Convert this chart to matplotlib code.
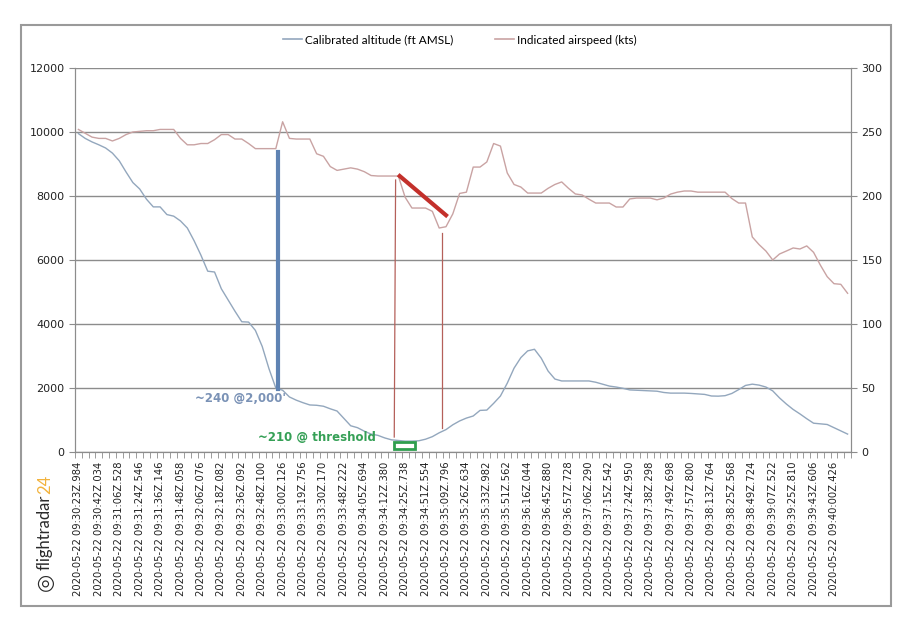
import matplotlib.pyplot as plt
import numpy as np
from matplotlib.patches import Rectangle


# calibrated altitude (ft AMSL), one value per sample
altitude = [9950, 9800, 9690, 9600, 9500, 9340, 9100, 8750, 8420, 8220,
            7900, 7660, 7660, 7420, 7370, 7220, 7000, 6600, 6150, 5650,
            5625, 5100, 4750, 4400, 4070, 4060, 3800, 3300, 2600, 2000,
            1930, 1720, 1620, 1540, 1470, 1460, 1430, 1350, 1280, 1050,
            820, 760, 650, 560, 520, 440, 380, 360, 340, 340,
            350, 400, 480, 600, 700, 850, 970, 1060, 1125, 1300,
            1310, 1520, 1750, 2150, 2620, 2950, 3160, 3210, 2930, 2530,
            2280, 2220, 2220, 2220, 2220, 2220, 2180, 2120, 2060, 2030,
            1990, 1940, 1930, 1920, 1910, 1900, 1860, 1840, 1840, 1840,
            1830, 1815, 1800, 1750, 1745, 1760, 1830, 1950, 2080, 2120,
            2090, 2030, 1910, 1690, 1500, 1330, 1190, 1040, 900, 880,
            860, 760, 660, 560]

# indicated airspeed (kts)
airspeed = [252, 249, 246, 245, 245, 243, 245, 248, 250, 250.5,
            251, 251, 252, 252, 252, 245, 240, 240, 241, 241,
            244, 248, 248, 244.5, 244.5, 241, 237, 237, 237, 237,
            258, 245, 244.5, 244.5, 244.5, 233, 231, 223, 220, 221,
            222, 221, 219, 216, 215.6, 215.6, 215.6, 215.6, 199, 190.6,
            190.6, 190.6, 188, 175, 176, 186, 202, 203, 222.6, 222.6,
            226.6, 241, 239, 218, 209, 207, 202.3, 202.3, 202.3, 206,
            209, 211, 206, 201.6, 200.8, 197.5, 194.5, 194.5, 194.5, 191.4,
            191.4, 197.7, 198.4, 198.4, 198.4, 197, 198.4, 201.5, 203, 203.9,
            203.9, 203, 203, 203, 203, 203, 198, 194.5, 194.5, 168,
            162, 157, 150, 154.7, 157, 159.4, 158.6, 161, 156, 146,
            137, 131.5, 131, 124]

# every third sample carries a label
tick_times = ["09:30:23Z.984", "09:30:42Z.034", "09:31:06Z.528", "09:31:24Z.546",
              "09:31:36Z.146", "09:31:48Z.058", "09:32:06Z.076", "09:32:18Z.082",
              "09:32:36Z.092", "09:32:48Z.100", "09:33:00Z.126", "09:33:19Z.756",
              "09:33:30Z.170", "09:33:48Z.222", "09:34:05Z.694", "09:34:12Z.380",
              "09:34:25Z.738", "09:34:51Z.554", "09:35:09Z.796", "09:35:26Z.634",
              "09:35:33Z.982", "09:35:51Z.562", "09:36:16Z.044", "09:36:45Z.880",
              "09:36:57Z.728", "09:37:06Z.290", "09:37:15Z.542", "09:37:24Z.950",
              "09:37:38Z.298", "09:37:49Z.698", "09:37:57Z.800", "09:38:13Z.764",
              "09:38:25Z.568", "09:38:49Z.724", "09:39:07Z.522", "09:39:25Z.810",
              "09:39:43Z.606", "09:40:00Z.426"]
tick_labels = ["2020-05-22 " + t for t in tick_times]

alt_color = "#93a7bd"
spd_color = "#c9a3a3"
grid_color = "#8c8c8c"
narrow = ["Lato", "DejaVu Sans"]

fig = plt.figure(figsize=(9.05, 6.21), dpi=100)
fig.patches.append(Rectangle((21 / 905, 1 - 606 / 621), 870 / 905, 581 / 621,
                             transform=fig.transFigure, fill=False,
                             edgecolor="#9a9a9a", linewidth=1.5))

ax = fig.add_axes([75 / 905, 1 - 452 / 621, 776 / 905, 384 / 621])
ax2 = ax.twinx()

x = np.arange(len(altitude))
ax.plot(x, altitude, color=alt_color, linewidth=1.0, zorder=3)
ax2.plot(x, airspeed, color=spd_color, linewidth=1.0, zorder=3)

ax.set_xlim(-0.5, len(altitude) - 0.5)
ax.set_ylim(0, 12000)
ax2.set_ylim(0, 300)
ax.set_yticks(np.arange(0, 12001, 2000))
ax2.set_yticks(np.arange(0, 301, 50))
ax.grid(axis="y", color=grid_color, linewidth=1.0)
ax.set_axisbelow(True)

ax.set_xticks(x[::3])
ax.set_xticklabels(tick_labels, rotation=90, fontsize=7.2, color="#222222")
ax.set_xticks(np.arange(-0.5, len(altitude)), minor=True)
ax.tick_params(axis="x", which="major", length=0, pad=7)
ax.tick_params(axis="x", which="minor", length=4, color=grid_color, direction="out")
ax.tick_params(axis="y", length=4, color=grid_color, labelsize=8, labelcolor="#222222")
ax2.tick_params(axis="y", length=4, color=grid_color, labelsize=8, labelcolor="#222222")

for a in (ax, ax2):
    a.spines["top"].set_visible(False)
    for s in ("left", "right", "bottom"):
        a.spines[s].set_color(grid_color)

# annotations drawn over the chart
ax2.plot([29.3, 29.3], [234.4, 49.3], color="#5f83b3", linewidth=3, zorder=5)
ax2.text(17.1, 41.5, "~240 @2,000'", color="#7a92b6", fontsize=8.5,
         fontweight="bold", va="center", ha="left", zorder=7)
ax2.plot([47.2, 54.0], [215.6, 185], color="#c3302b", linewidth=3, zorder=5)
ax2.plot([46.6, 46.4], [212.5, 11.7], color="#b5605a", linewidth=0.9, zorder=5)
ax2.plot([53.4, 53.4], [171, 18.7], color="#b5605a", linewidth=0.9, zorder=5)
ax2.text(26.4, 11.7, "~210 @ threshold", color="#35a056", fontsize=8.5,
         fontweight="bold", va="center", ha="left", zorder=7)
ax2.add_patch(Rectangle((46.4, 2.3), 3.0, 5.5, facecolor="white",
                        edgecolor="#2f9e4f", linewidth=2, zorder=6, clip_on=False))

# legend
handles = [plt.Line2D([], [], color=alt_color, linewidth=1.2),
           plt.Line2D([], [], color=spd_color, linewidth=1.2)]
fig.legend(handles, ["Calibrated altitude (ft AMSL)", "Indicated airspeed (kts)"],
           loc="center", bbox_to_anchor=(460 / 905, 1 - 40 / 621), ncol=2,
           frameon=False, prop={"family": narrow, "size": 8.5},
           handlelength=1.6, columnspacing=3.5, handletextpad=0.3)

# flightradar24 watermark
fig.text(45 / 905, 1 - 570 / 621, "flightradar", rotation=90, fontsize=12,
         color="#2a2a2a", family=narrow, ha="center", va="bottom")
fig.text(45 / 905, 1 - 494 / 621, "24", rotation=90, fontsize=12,
         color="#f2b33d", family=narrow, ha="center", va="bottom")
fig.text(45 / 905, 1 - 582 / 621, "\u25ce", rotation=90, fontsize=15,
         color="#2a2a2a", ha="center", va="center")

fig.savefig("out.png", dpi=100)
